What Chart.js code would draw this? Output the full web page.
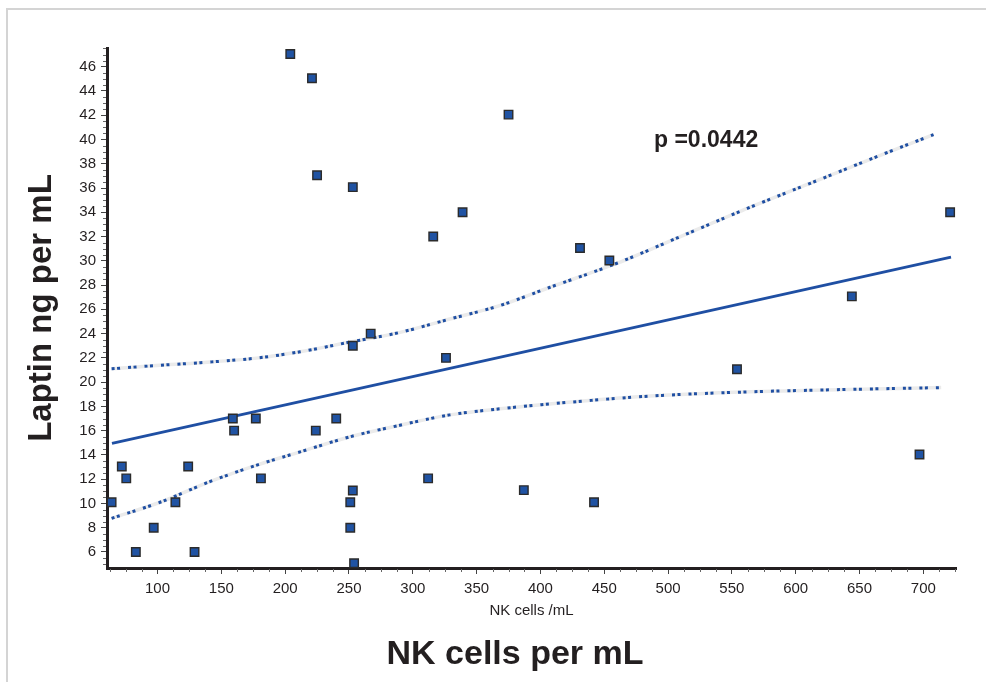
<!DOCTYPE html>
<html><head><meta charset="utf-8">
<script src="https://cdn.jsdelivr.net/npm/chart.js@4.4.1/dist/chart.umd.min.js"></script>
<style>
html,body{margin:0;padding:0;background:#fff;}
#wrap{position:relative;width:986px;height:682px;overflow:hidden;background:#fff;}
#frame{position:absolute;left:6px;top:8px;width:1000px;height:700px;border-left:2px solid #d4d4d4;border-top:2px solid #d4d4d4;box-sizing:border-box;}
canvas{position:absolute;left:0;top:0;}
</style></head><body>
<div id="wrap"><div id="frame"></div><canvas id="c" width="986" height="682"></canvas></div>
<script>
// ---- data ----
const nkCells = [64, 72, 75.5, 83, 97, 114, 124, 129, 159, 160, 177, 181, 204, 221, 224, 225, 240, 251, 251, 253, 253, 253, 254, 375, 267, 312, 316, 326, 339, 387, 431, 442, 454, 554, 644, 697, 721];
const leptin  = [10.1, 13.05, 12.07, 6.0, 8.0, 10.1, 13.05, 6.0, 17.0, 16.0, 17.0, 12.07, 47.05, 45.05, 16.0, 37.05, 17.0, 10.1, 8.0, 36.07, 23.0, 11.07, 5.07, 42.05, 24.0, 12.07, 32.0, 22.0, 34.0, 11.1, 31.05, 10.1, 30.03, 21.06, 27.07, 14.04, 34.0];

const fitX = [64.3, 721.7];
const fitY = [14.95, 30.3];

const upperX = [64, 99, 133.5, 179, 211.7, 250.9, 290, 329, 368, 407, 460, 512, 564, 616.5, 668.7, 708];
const upperY = [21.1, 21.37, 21.6, 22.0, 22.5, 23.3, 24.1, 25.2, 26.3, 27.8, 29.8, 32.1, 34.4, 36.6, 38.8, 40.4];

const lowerX = [64, 102, 141, 179, 211.7, 251, 290, 329, 368, 407, 486, 564, 642, 714];
const lowerY = [8.77, 10.1, 11.8, 13.2, 14.25, 15.5, 16.45, 17.3, 17.8, 18.2, 18.85, 19.2, 19.4, 19.55];

const xTicks = [100, 150, 200, 250, 300, 350, 400, 450, 500, 550, 600, 650, 700];
const yTicks = [6, 8, 10, 12, 14, 16, 18, 20, 22, 24, 26, 28, 30, 32, 34, 36, 38, 40, 42, 44, 46];

const xTitle = 'NK cells /mL';
const yTitle = 'Laptin ng per mL';
const bigXTitle = 'NK cells per mL';
const pLabel = 'p =0.0442';

// ---- helpers ----
const pts = (xs, ys) => xs.map((x, i) => ({x: x, y: ys[i]}));
const FONT = "'Liberation Sans', Arial, Helvetica, sans-serif";
const INK = '#231f20';
const BLUE = '#1f4fa3';

const minorTicks = {
  id: 'minorTicks',
  afterDraw(chart) {
    const ctx = chart.ctx, xs = chart.scales.x, ys = chart.scales.y;
    ctx.save();
    ctx.strokeStyle = '#666';
    ctx.lineWidth = 1;
    ctx.beginPath();
    for (let v = 62.5; v <= 725; v += 12.5) {
      if (v % 50 === 0) continue;
      const px = Math.round(xs.getPixelForValue(v)) + 0.5;
      ctx.moveTo(px, xs.top + 1); ctx.lineTo(px, xs.top + 4);
    }
    for (let v = 5; v <= 47.5; v += 0.5) {
      if (v % 2 === 0) continue;
      const py = Math.round(ys.getPixelForValue(v)) + 0.5;
      ctx.moveTo(ys.right - 4, py); ctx.lineTo(ys.right - 1, py);
    }
    ctx.stroke();
    ctx.restore();
  }
};

const extraText = {
  id: 'extraText',
  afterDraw(chart) {
    const ctx = chart.ctx;
    ctx.save();
    ctx.fillStyle = INK;
    ctx.font = "bold 34px " + FONT;
    ctx.textAlign = 'center';
    ctx.textBaseline = 'middle';
    ctx.fillText(bigXTitle, 515, 655);
    ctx.font = "bold 23px " + FONT;
    ctx.textAlign = 'left';
    ctx.textBaseline = 'alphabetic';
    ctx.fillText(pLabel, 654, 147);
    ctx.restore();
  }
};

new Chart(document.getElementById('c'), {
  type: 'scatter',
  data: {
    datasets: [
      {
        label: 'Leptin',
        data: pts(nkCells, leptin),
        pointStyle: 'rect',
        pointRadius: 6,
        pointBackgroundColor: '#2053a3',
        pointBorderColor: '#2b2b2b',
        pointBorderWidth: 1.4,
        showLine: false,
        clip: false,
        order: 0
      },
      {
        label: 'Fit',
        data: pts(fitX, fitY),
        showLine: true,
        borderColor: BLUE,
        borderWidth: 2.8,
        pointRadius: 0,
        order: 1
      },
      {
        label: 'Upper CI',
        data: pts(upperX, upperY),
        showLine: true,
        cubicInterpolationMode: 'monotone',
        borderColor: BLUE,
        borderWidth: 3,
        borderDash: [3, 2.5, 3, 8],
        pointRadius: 0,
        order: 2
      },
      {
        label: 'Upper CI shade',
        data: pts(upperX, upperY),
        showLine: true,
        cubicInterpolationMode: 'monotone',
        borderColor: '#ebebeb',
        borderWidth: 3.5,
        pointRadius: 0,
        order: 5
      },
      {
        label: 'Lower CI',
        data: pts(lowerX, lowerY),
        showLine: true,
        cubicInterpolationMode: 'monotone',
        borderColor: BLUE,
        borderWidth: 3,
        borderDash: [3, 2.5, 3, 8],
        pointRadius: 0,
        order: 3
      },
      {
        label: 'Lower CI shade',
        data: pts(lowerX, lowerY),
        showLine: true,
        cubicInterpolationMode: 'monotone',
        borderColor: '#ebebeb',
        borderWidth: 3.5,
        pointRadius: 0,
        order: 6
      }
    ]
  },
  options: {
    responsive: false,
    animation: false,
    devicePixelRatio: 1,
    layout: { padding: { left: 0, right: 30, top: 48, bottom: 58 } },
    plugins: { legend: { display: false }, tooltip: { enabled: false } },
    scales: {
      x: {
        type: 'linear',
        min: 60.4,
        max: 725.6,
        afterBuildTicks: s => { s.ticks = xTicks.map(v => ({value: v})); },
        afterFit: s => { s.height = 56; },
        grid: { drawOnChartArea: false, drawTicks: true, tickLength: 6, color: '#444', lineWidth: 1 },
        border: { display: true, color: INK, width: 3 },
        ticks: { color: INK, font: { family: FONT, size: 15 }, padding: 6, maxRotation: 0 },
        title: { display: true, text: xTitle, color: INK, font: { family: FONT, size: 15 }, padding: { top: 4, bottom: 4 } }
      },
      y: {
        type: 'linear',
        min: 4.68,
        max: 47.54,
        afterBuildTicks: s => { s.ticks = yTicks.map(v => ({value: v})); },
        afterFit: s => { s.width = 107; },
        grid: { drawOnChartArea: false, drawTicks: true, tickLength: 6, color: '#444', lineWidth: 1 },
        border: { display: true, color: INK, width: 3 },
        ticks: { color: INK, font: { family: FONT, size: 15 }, padding: 5 },
        title: { display: true, text: yTitle, color: INK, font: { family: FONT, size: 33, weight: 'bold' }, padding: { top: 22, bottom: 0 } }
      }
    }
  },
  plugins: [minorTicks, extraText]
});
</script>
</body></html>
